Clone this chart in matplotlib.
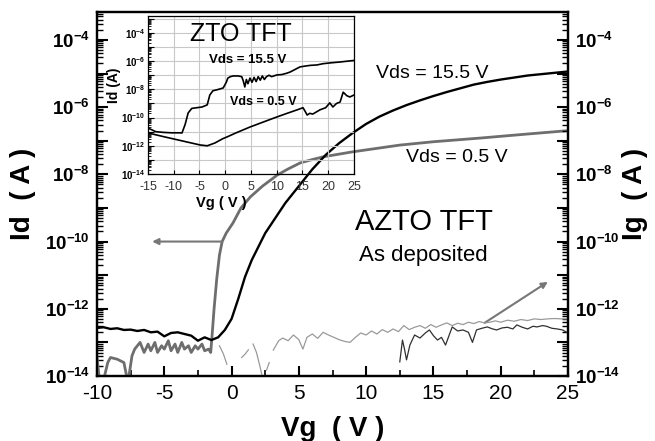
import numpy as np
import matplotlib
matplotlib.use("Agg")
import matplotlib.pyplot as plt
from matplotlib.ticker import LogLocator, FuncFormatter, MultipleLocator, NullFormatter

plt.rcParams['font.family'] = ['Liberation Sans', 'DejaVu Sans']
plt.rcParams['mathtext.default'] = 'regular'
plt.rcParams['axes.unicode_minus'] = False

# ---------------- data (log10 of current) ----------------
vg_155 = [-10, -9.5, -9, -8.5, -8, -7.5, -7, -6.5, -6, -5.5, -5, -4.5, -4, -3.5, -3, -2.5, -2, -1.5, -1, -0.5,
          0, 0.5, 1, 1.5, 2, 2.5, 3, 3.5, 4, 5, 6, 7, 8, 9, 10, 11, 12, 13, 14, 15, 16, 17, 18, 19, 20, 21, 22, 23, 24, 25]
id_155 = [-12.57, -12.55, -12.6, -12.58, -12.63, -12.62, -12.66, -12.63, -12.7, -12.68, -12.82, -12.72, -12.7, -12.75,
          -12.8, -12.95, -12.85, -12.93, -12.85, -12.63,
          -12.3, -11.7, -11.05, -10.55, -10.15, -9.75, -9.45, -9.15, -8.85, -8.35, -7.85, -7.42, -7.07, -6.77, -6.5,
          -6.28, -6.1, -5.94, -5.8, -5.67, -5.55, -5.44, -5.33, -5.25, -5.18, -5.12, -5.06, -5.02, -4.98, -4.94]

vg_05 = [-10, -9.8, -9.5, -9.2, -9.0, -8.5, -8.0, -7.7, -7.4, -7.2, -7.0, -6.8, -6.5, -6.2, -6.0, -5.7, -5.5, -5.2, -5.0,
         -4.7, -4.5, -4.2, -4.0, -3.7, -3.5, -3.2, -3.0, -2.7, -2.5, -2.2, -2.0, -1.7, -1.55, -1.45, -1.3, -1.1, -0.9,
         -0.7, -0.4, 0.1, 0.7, 1.4, 2.3, 3.4, 4.2, 5.1, 6.0, 6.8, 9.0, 12.5, 15.0, 18.5, 22.0, 25.0]
id_05 = [-13.43, -14.2, -14.1, -13.6, -13.45, -13.5, -13.6, -14.2, -13.4, -13.2, -13.1, -13.0, -13.3, -13.05, -13.25,
         -13.0, -13.3, -13.1, -13.2, -12.95, -13.25, -13.05, -13.3, -13.0, -13.2, -13.1, -13.3, -13.1, -13.2, -13.05,
         -13.25, -13.2, -13.3, -12.8, -12.0, -11.1, -10.4, -10.0, -9.75, -9.45, -9.0, -8.67, -8.35, -8.02, -7.84,
         -7.66, -7.56, -7.48, -7.33, -7.13, -7.03, -6.92, -6.8, -6.7]

nan = np.nan
vg_ig1 = [-0.9, -0.6, -0.35, nan, 0.75, 1.0, 1.25, nan, 1.6, 1.85, 2.1, 2.3, nan, 2.6, 2.8, nan,
          3.1, 3.5, 3.8, 4.2, 4.6, 5.0, 5.3, 5.6, 6.0, 6.4, 6.8, 7.2, 7.6, 8.0, 8.4, 8.8, 9.2, 9.6, 10.0, 10.4,
          10.8, 11.2, 11.6, 12.0, 12.4, 12.8, 13.2, 13.6, 14.0, 14.4, 14.8, 15.2, 15.6, 16.0, 16.4, 16.8, 17.2,
          17.6, 18.0, 18.4, 18.8, 19.2, 19.6, 20.0, 20.5, 21.0, 21.5, 22.0, 22.5, 23.0, 23.5, 24.0, 24.5, 25.0]
ig1 = [-13.1, -13.35, -13.65, nan, -13.45, -13.35, -13.22, nan, -13.05, -13.3, -13.7, -14.05, nan, -13.82, -13.6, nan,
       -13.23, -12.95, -12.87, -12.95, -12.78, -12.92, -13.2, -12.85, -12.75, -12.88, -12.7, -12.78, -12.85, -12.92,
       -12.97, -13.0, -12.85, -12.72, -12.78, -12.66, -12.75, -12.62, -12.7, -12.6, -12.68, -12.5, -12.62, -12.55,
       -12.5, -12.58, -12.47, -12.55, -12.48, -12.42, -12.5, -12.43, -12.47, -12.4, -12.44, -12.38, -12.42, -12.4,
       -12.36, -12.4, -12.34, -12.37, -12.32, -12.35, -12.3, -12.32, -12.3, -12.29, -12.3, -12.3]

vg_ig2 = [12.5, 12.7, 12.85, 13.0, 13.25, 13.6, 14.0, 14.4, 14.7, 15.0, 15.3, 15.6, 15.9, 16.2, 16.4, 16.8, 17.2, 17.6,
          17.9, 18.2, 18.6, 19.0, 19.4, 19.7, 20.1, 20.5, 20.9, 21.2, 21.6, 22.0, 22.4, 22.7, 23.1, 23.4, 23.8, 24.2,
          24.6, 25.0]
ig2 = [-13.58, -12.93, -13.2, -13.52, -13.08, -12.78, -12.87, -12.72, -12.63, -12.8, -12.93, -12.85, -13.08, -12.75,
       -12.54, -12.66, -12.63, -12.7, -13.0, -12.63, -12.58, -12.54, -12.6, -12.63, -12.57, -12.55, -12.6, -12.48,
       -12.55, -12.6, -12.52, -12.54, -12.5, -12.52, -12.58, -12.6, -12.63, -12.72]

# inset (ZTO TFT)
vg_z155 = [-15, -13.5, -12, -10.5, -9, -8.4, -7.8, -7.2, -6.5, -5.5, -4.5, -3.5, -3.0, -2.4, -1.5, -0.4, 0.2, 0.5,
           1.0, 1.5, 2.5, 3.2, 3.5, 3.8, 4.1, 4.4, 4.8, 5.2, 5.6, 6.0, 6.4, 6.8, 7.2, 7.6, 8.0, 8.5, 9.0, 10.0, 11.0,
           12.0, 12.6, 13.5, 14.5, 15.5, 16.5, 17.8, 19.0, 20.5, 22.3, 24.0, 25.0]
id_z155 = [-10.74, -11.0, -11.05, -11.08, -11.08, -11.09, -10.5, -9.67, -9.35, -9.3, -9.25, -9.1, -8.4, -8.1, -8.02,
           -7.9, -7.5, -7.2, -7.1, -7.05, -7.05, -7.1, -7.4, -7.83, -7.3, -7.6, -7.2, -7.5, -7.15, -7.45, -7.1, -7.35,
           -7.05, -7.3, -7.1, -7.0, -7.1, -6.98, -6.95, -6.85, -6.77, -6.6, -6.41, -6.35, -6.3, -6.27, -6.18, -6.12,
           -6.06, -5.99, -5.95]
vg_z05 = [-15, -12, -9, -6, -4.9, -3.5, -2, -0.5, 0.3, 2, 4.8, 7.5, 10, 12, 13.9, 15.1, 15.5, 15.9, 16.4, 17, 18.4,
          19.5, 20.3, 20.9, 21.6, 22.3, 22.9, 23.6, 24.2, 25]
id_z05 = [-11.09, -11.35, -11.6, -11.85, -11.94, -12.0, -11.8, -11.5, -11.38, -11.1, -10.67, -10.3, -9.96, -9.7,
          -9.46, -9.3, -9.55, -9.82, -9.7, -9.75, -9.45, -9.3, -8.96, -9.25, -9.0, -8.9, -8.2, -8.45, -8.54, -8.4]

main_xticks = [-10, -5, 0, 5, 10, 15, 20, 25]
inset_xticks = [-15, -10, -5, 0, 5, 10, 15, 20, 25]


def p10(a):
    return np.power(10.0, np.array(a, dtype=float))


def even_exp_fmt(val, pos):
    if val <= 0:
        return ''
    e = int(round(np.log10(val)))
    if e % 2 != 0:
        return ''
    return r'$\mathdefault{10^{%d}}$' % e


W, H = 655, 441
fig = plt.figure(figsize=(W / 100, H / 100), dpi=100)
ax = fig.add_axes([97 / W, (H - 376) / H, 471 / W, 364 / H])
ax2 = ax.twinx()

ax.plot(vg_05, p10(id_05), color='#6e6e6e', lw=2.0, zorder=3)
ax.plot(vg_155, p10(id_155), color='black', lw=1.7, zorder=4)
ax2.plot(vg_ig1, p10(ig1), color='#9a9a9a', lw=0.9)
ax2.plot(vg_ig2, p10(ig2), color='#303030', lw=0.9)

for a in (ax, ax2):
    a.set_yscale('log')
    a.set_ylim(1e-14, 10 ** -3.17)
    a.yaxis.set_major_locator(LogLocator(base=10, numticks=30))
    a.yaxis.set_minor_locator(LogLocator(base=10, subs=np.arange(2, 10), numticks=30))
    a.yaxis.set_major_formatter(FuncFormatter(even_exp_fmt))
    a.yaxis.set_minor_formatter(NullFormatter())
    a.tick_params(axis='y', which='major', direction='in', length=8, width=1.5, labelsize=13.5, pad=5)
    a.tick_params(axis='y', which='minor', direction='in', length=4, width=1.0)
    for s in a.spines.values():
        s.set_linewidth(1.6)
    for lab in a.get_yticklabels():
        lab.set_fontweight('bold')

ax.set_xlim(-10, 25)
ax.set_xticks(main_xticks)
ax.xaxis.set_minor_locator(MultipleLocator(2.5))
ax.tick_params(axis='x', which='major', direction='in', length=7, width=1.5, labelsize=15, pad=6)
ax.tick_params(axis='x', which='minor', direction='in', length=4, width=1.2)
ax.tick_params(axis='y', which='both', left=True, right=False)
ax2.tick_params(axis='y', which='both', left=False, right=True)

ax.set_xlabel('Vg  ( V )', fontsize=20, fontweight='bold', labelpad=9)
ax.set_ylabel('Id  ( A )', fontsize=20, fontweight='bold', labelpad=6)
ax2.set_ylabel('Ig  ( A )', fontsize=20, fontweight='bold', labelpad=1)

# arrows
ax.annotate('', xy=(-5.9, 1e-10), xytext=(-0.7, 1e-10),
            arrowprops=dict(arrowstyle='-|>', color='#777777', lw=1.5, mutation_scale=9, shrinkA=0, shrinkB=0))
ax.annotate('', xy=(23.5, 10 ** -11.2), xytext=(18.8, 10 ** -12.42),
            arrowprops=dict(arrowstyle='-|>', color='#777777', lw=1.5, mutation_scale=9, shrinkA=0, shrinkB=0))

# texts (positions in figure pixels)
def ftext(x, y, s, **kw):
    fig.text(x / W, 1 - y / H, s, ha='center', va='center', **kw)

ftext(432, 73, 'Vds = 15.5 V', fontsize=14)
ftext(457, 157, 'Vds = 0.5 V', fontsize=14)
ftext(424, 222, 'AZTO TFT', fontsize=21)
ftext(423, 256, 'As deposited', fontsize=16)

# ---------------- inset ----------------
axi = fig.add_axes([148 / W, (H - 174) / H, 206 / W, 158 / H])
axi.set_facecolor('none')
axi.plot(vg_z155, p10(id_z155), color='black', lw=1.2)
axi.plot(vg_z05, p10(id_z05), color='black', lw=1.2)
axi.set_yscale('log')
axi.set_ylim(1e-14, 10 ** -2.8)
axi.set_xlim(-15, 25)
axi.set_xticks(inset_xticks)
axi.yaxis.set_major_locator(LogLocator(base=10, numticks=30))
axi.yaxis.set_minor_locator(LogLocator(base=10, subs=np.arange(2, 10), numticks=30))
axi.yaxis.set_major_formatter(FuncFormatter(even_exp_fmt))
axi.yaxis.set_minor_formatter(NullFormatter())
axi.grid(True, which='major', color='#c8c8c8', lw=0.8)
axi.tick_params(axis='y', which='major', direction='in', length=4, width=0.8, labelsize=7, pad=2)
axi.tick_params(axis='y', which='minor', direction='in', length=2, width=0.6)
axi.tick_params(axis='x', which='major', direction='in', length=3, width=0.8, labelsize=9, pad=5, labelcolor='#333333')
for lab in axi.get_yticklabels():
    lab.set_fontweight('bold')
for s in axi.spines.values():
    s.set_linewidth(0.9)
ftext(221, 203, 'Vg ( V )', fontsize=10.5, fontweight='bold')
ftext(114, 85, 'Id (A)', fontsize=10, fontweight='bold', rotation=90)
ftext(241, 34, 'ZTO TFT', fontsize=18)
ftext(248, 60, 'Vds = 15.5 V', fontsize=9.5, fontweight='bold')
ftext(263, 102, 'Vds = 0.5 V', fontsize=9, fontweight='bold')

fig.savefig('out.png', dpi=100)
